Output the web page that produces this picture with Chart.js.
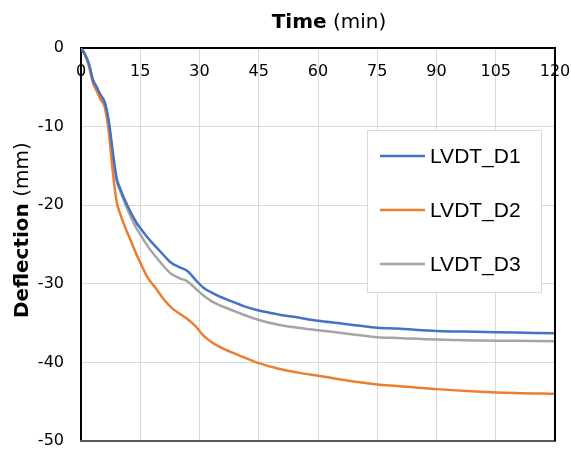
<!DOCTYPE html>
<html>
<head>
<meta charset="utf-8">
<script src="https://cdn.jsdelivr.net/npm/chart.js@4/dist/chart.umd.min.js"></script>
<style>
html,body{margin:0;padding:0;background:#fff;overflow:hidden;}
#wrap{width:571px;height:451px;position:relative;}
canvas{display:block;}
</style>
</head>
<body>
<div id="wrap"><canvas id="c" width="571" height="451" style="width:571px;height:451px"></canvas></div>
<script>
const timeMin = [0,1,2,3,4,5,6,7,8,9,10,11,12,13,14,15,17,19,21,23,25,27,29,31,33,35,38,41,45,50,55,60,65,70,75,80,90,100,110,120];
const lvdtD1 = [0,-0.8,-2.0,-4.0,-5.0,-6.0,-6.9,-9.2,-13.0,-16.5,-18.0,-19.2,-20.3,-21.3,-22.2,-22.9,-24.2,-25.3,-26.4,-27.4,-27.9,-28.4,-29.5,-30.5,-31.1,-31.6,-32.2,-32.8,-33.4,-33.9,-34.3,-34.7,-35.0,-35.3,-35.6,-35.7,-36.0,-36.1,-36.2,-36.3];
const lvdtD2 = [0,-0.9,-2.3,-4.4,-5.5,-6.6,-7.5,-10.5,-15.5,-19.5,-21.2,-22.6,-23.8,-25.0,-26.2,-27.3,-29.3,-30.6,-32.0,-33.1,-33.8,-34.5,-35.4,-36.6,-37.4,-38.0,-38.7,-39.3,-40.1,-40.8,-41.3,-41.7,-42.1,-42.5,-42.8,-43.0,-43.4,-43.7,-43.9,-44.0];
const lvdtD3 = [0,-0.8,-2.1,-4.1,-5.1,-6.1,-7.0,-9.5,-13.5,-16.8,-18.3,-19.6,-20.8,-21.9,-22.9,-23.7,-25.3,-26.6,-27.8,-28.8,-29.3,-29.7,-30.6,-31.5,-32.2,-32.7,-33.3,-33.9,-34.6,-35.2,-35.6,-35.9,-36.2,-36.5,-36.8,-36.9,-37.1,-37.2,-37.25,-37.3];
const seriesNames = ['LVDT_D1','LVDT_D2','LVDT_D3'];
const xTicks = [0,15,30,45,60,75,90,105,120];
const yTicks = [0,-10,-20,-30,-40,-50];
const xTitleBold = 'Time', xTitleRest = ' (min)';
const yTitleBold = 'Deflection', yTitleRest = ' (mm)';

const colors = ['#4472C4','#ED7D31','#A5A5A5'];
const FONT = '"DejaVu Sans"';
const tickFont = {family:'DejaVu Sans', size:16};
const toXY = arr => arr.map((v,i)=>({x:timeMin[i], y:v}));

const framePlugin = {
  id:'frame',
  afterDraw(chart){
    const {ctx, chartArea:a} = chart;
    const xs = chart.scales.x;
    ctx.save();
    ctx.fillStyle = '#595959';
    ctx.fillRect(a.left - 1, a.bottom - 1, a.right - a.left + 2, 2);
    ctx.fillStyle = '#000';
    ctx.fillRect(a.right - 1, a.top - 1, 2, a.bottom - a.top + 1);
    ctx.font = '16px ' + FONT;
    ctx.textAlign = 'center'; ctx.textBaseline = 'middle';
    xTicks.forEach(v => ctx.fillText(String(v), xs.getPixelForValue(v), a.top + 24));
    ctx.textAlign = 'left';
    ctx.textBaseline = 'alphabetic';
    const f1 = 'bold 20px ' + FONT, f2 = '20px ' + FONT;
    ctx.font = f1; const w1 = ctx.measureText(xTitleBold).width;
    ctx.font = f2; const w2 = ctx.measureText(xTitleRest).width;
    let x0 = 329 - (w1+w2)/2;
    ctx.font = f1; ctx.fillText(xTitleBold, x0, 28);
    ctx.font = f2; ctx.fillText(xTitleRest, x0+w1, 28);
    ctx.translate(28, 0); ctx.rotate(-Math.PI/2);
    ctx.font = f1; const v1 = ctx.measureText(yTitleBold).width;
    let y0 = -318;
    ctx.font = f1; ctx.fillText(yTitleBold, y0, 0);
    ctx.font = f2; ctx.fillText(yTitleRest, y0+v1, 0);
    ctx.restore();
    ctx.save();
    const bx=367, by=130, bw=174, bh=162;
    ctx.fillStyle='#fff'; ctx.fillRect(bx,by,bw,bh);
    ctx.strokeStyle='#d9d9d9'; ctx.lineWidth=1; ctx.strokeRect(bx+0.5,by+0.5,bw,bh);
    ctx.font='21px "Liberation Sans"'; ctx.textBaseline='middle'; ctx.fillStyle='#000';
    chart.data.datasets.forEach((ds,i)=>{
      const yy = by+26+i*54;
      ctx.strokeStyle = ds.borderColor; ctx.lineWidth=2.5;
      ctx.beginPath(); ctx.moveTo(380,yy); ctx.lineTo(425,yy); ctx.stroke();
      ctx.fillText(ds.label, 430, yy+1);
    });
    ctx.restore();
  }
};

new Chart(document.getElementById('c'), {
  type:'line',
  data:{
    datasets:[lvdtD1,lvdtD2,lvdtD3].map((d,i)=>({
      label:seriesNames[i], data:toXY(d), borderColor:colors[i], backgroundColor:colors[i],
      borderWidth:2.5, pointRadius:0, cubicInterpolationMode:'monotone', fill:false
    }))
  },
  options:{
    responsive:false, animation:false, devicePixelRatio:1,
    layout:{padding:{left:0,right:16,top:0,bottom:10}},
    plugins:{legend:{display:false}, tooltip:{enabled:false}},
    scales:{
      x:{
        type:'linear', position:'top', min:0, max:120,
        afterBuildTicks(s){ s.ticks = xTicks.map(v=>({value:v})); },
        afterFit(s){ s.height = 48; s.paddingLeft = 0; s.paddingRight = 0; },
        grid:{color:'#d9d9d9', lineWidth:1, drawTicks:false},
        border:{color:'#000', width:2},
        ticks:{display:false}
      },
      y:{
        type:'linear', min:-50, max:0,
        afterBuildTicks(s){ s.ticks = yTicks.map(v=>({value:v})); },
        afterFit(s){ s.width = 81; s.paddingTop = 0; s.paddingBottom = 0; },
        grid:{color:'#d9d9d9', lineWidth:1, drawTicks:false},
        border:{color:'#000', width:2},
        ticks:{padding:17, color:'#000', font:tickFont, autoSkip:false}
      }
    }
  },
  plugins:[framePlugin]
});
</script>
</body>
</html>
